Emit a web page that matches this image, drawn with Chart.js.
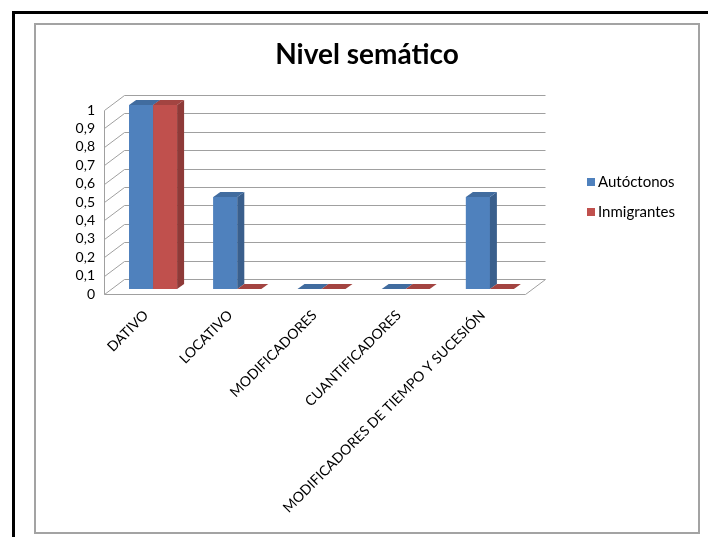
<!DOCTYPE html>
<html>
<head>
<meta charset="utf-8">
<title>Nivel semático</title>
<script src="https://cdn.jsdelivr.net/npm/chart.js@4.4.1/dist/chart.umd.min.js"></script>
<style>
  html, body { margin: 0; padding: 0; background: #ffffff; }
  #frame { position: absolute; left: 12px; top: 11px; width: 696px; height: 526px;
           border-left: 3px solid #000; border-top: 3px solid #000; box-sizing: border-box; }
  #panel { position: absolute; left: 34px; top: 23px; width: 666px; height: 511px;
           border: 2px solid #a3a3a3; box-sizing: border-box; }
  #c { position: absolute; left: 0; top: 0; }
</style>
</head>
<body>
<div id="frame"></div>
<div id="panel"></div>
<canvas id="c" width="708" height="537"></canvas>
<script>
// Chart data
const chartTitle = 'Nivel semático';
const categories = ['DATIVO', 'LOCATIVO', 'MODIFICADORES', 'CUANTIFICADORES', 'MODIFICADORES DE TIEMPO Y SUCESIÓN'];
const seriesNames = ['Autóctonos', 'Inmigrantes'];
const autoctonos = [1, 0.5, 0, 0, 0.5];
const inmigrantes = [1, 0, 0, 0, 0];
const yTickValues = [0, 0.1, 0.2, 0.3, 0.4, 0.5, 0.6, 0.7, 0.8, 0.9, 1];

// Colours: front, side and top faces of each series
const palette = [
  { front: '#4f81bd', side: '#3a5f8c', top: '#416c9f' },
  { front: '#c0504d', side: '#8e3a38', top: '#a34441' }
];

// 3D look: depth of the walls and of the columns
const WALL = { dx: 20, dy: -15 };
const BAR_SHIFT = { dx: 7, dy: -5 };
const BAR_DEPTH = { dx: 7, dy: -5 };
const GRID_COLOR = '#a0a0a0';
const FONT = 'Lato, "Open Sans", sans-serif';

function fmtTick(v) {
  if (v === 0 || v === 1) return String(v);
  return v.toFixed(1).replace('.', ',');
}

const walls3d = {
  id: 'walls3d',
  beforeDatasetsDraw(chart) {
    const { ctx, chartArea: a, scales: { y } } = chart;
    ctx.save();
    ctx.strokeStyle = GRID_COLOR;
    ctx.lineWidth = 1;
    // back-wall gridlines with the side-wall diagonals
    yTickValues.forEach(v => {
      const py = Math.round(y.getPixelForValue(v)) + 0.5;
      ctx.beginPath();
      ctx.moveTo(a.left + 0.5, py);
      ctx.lineTo(a.left + WALL.dx + 0.5, py + WALL.dy);
      ctx.lineTo(a.right + WALL.dx + 0.5, py + WALL.dy);
      ctx.stroke();
    });
    // side wall front edge
    ctx.beginPath();
    ctx.moveTo(a.left + 0.5, Math.round(y.getPixelForValue(1)) + 0.5);
    ctx.lineTo(a.left + 0.5, Math.round(a.bottom) + 0.5);
    // floor front edge and right edge
    ctx.lineTo(a.right + 0.5, Math.round(a.bottom) + 0.5);
    ctx.lineTo(a.right + WALL.dx + 0.5, Math.round(a.bottom) + 0.5 + WALL.dy);
    ctx.stroke();
    ctx.restore();
    // columns sit in the middle of the depth
    ctx.save();
    ctx.translate(BAR_SHIFT.dx, BAR_SHIFT.dy);
  },
  afterDatasetsDraw(chart) {
    const { ctx } = chart;
    chart.data.labels.forEach((_, idx) => {
      chart.data.datasets.forEach((ds, di) => {
        const meta = chart.getDatasetMeta(di);
        const el = meta.data[idx];
        if (!el) return;
        const { x, y, base, width } = el.getProps(['x', 'y', 'base', 'width'], true);
        const x0 = x - width / 2, x1 = x + width / 2;
        const c = palette[di];
        const bx = BAR_DEPTH.dx, by = BAR_DEPTH.dy;
        // front
        ctx.fillStyle = c.front;
        ctx.fillRect(x0, y, width, base - y);
        // side
        ctx.fillStyle = c.side;
        ctx.beginPath();
        ctx.moveTo(x1, y); ctx.lineTo(x1 + bx, y + by);
        ctx.lineTo(x1 + bx, base + by); ctx.lineTo(x1, base);
        ctx.closePath(); ctx.fill();
        // top
        ctx.fillStyle = c.top;
        ctx.beginPath();
        ctx.moveTo(x0, y); ctx.lineTo(x0 + bx, y + by);
        ctx.lineTo(x1 + bx, y + by); ctx.lineTo(x1, y);
        ctx.closePath(); ctx.fill();
      });
    });
    ctx.restore();
  },
  afterDraw(chart) {
    const { ctx } = chart;
    ctx.save();
    // title
    ctx.fillStyle = '#000';
    ctx.font = 'bold 28px ' + FONT;
    ctx.textAlign = 'center';
    ctx.textBaseline = 'middle';
    ctx.fillText(chartTitle, 367, 55);
    // legend
    ctx.font = '15px ' + FONT;
    ctx.textAlign = 'left';
    chart.data.datasets.forEach((ds, i) => {
      const cy = 182 + i * 30;
      ctx.fillStyle = ds.backgroundColor;
      ctx.fillRect(587, cy - 4, 8, 8);
      ctx.fillStyle = '#000';
      ctx.fillText(ds.label, 598, cy);
    });
    ctx.restore();
  }
};

new Chart(document.getElementById('c'), {
  type: 'bar',
  data: {
    labels: categories,
    datasets: [
      { label: seriesNames[0], data: autoctonos, backgroundColor: palette[0].front },
      { label: seriesNames[1], data: inmigrantes, backgroundColor: palette[1].front }
    ]
  },
  options: {
    responsive: false,
    animation: false,
    devicePixelRatio: 1,
    layout: { padding: { left: 40, right: 183, top: 110, bottom: 5 } },
    datasets: { bar: { barPercentage: 1, categoryPercentage: 0.57, borderWidth: 0 } },
    plugins: {
      legend: { display: false },
      title: { display: false },
      tooltip: { enabled: false }
    },
    scales: {
      x: {
        grid: { display: false, drawTicks: false },
        border: { display: false },
        ticks: {
          autoSkip: false, minRotation: 45, maxRotation: 45, padding: 13,
          color: '#000', font: { family: FONT, size: 14 }
        },
        afterFit(scale) { scale.height = 238; }
      },
      y: {
        min: 0, max: 1,
        grid: { display: false, drawTicks: false },
        border: { display: false },
        afterBuildTicks(scale) { scale.ticks = yTickValues.map(v => ({ value: v })); },
        ticks: {
          autoSkip: false,
          padding: 9, color: '#000', font: { family: FONT, size: 14 },
          callback: v => fmtTick(v)
        },
        afterFit(scale) { scale.width = 64; }
      }
    }
  },
  plugins: [walls3d]
});
</script>
</body>
</html>
